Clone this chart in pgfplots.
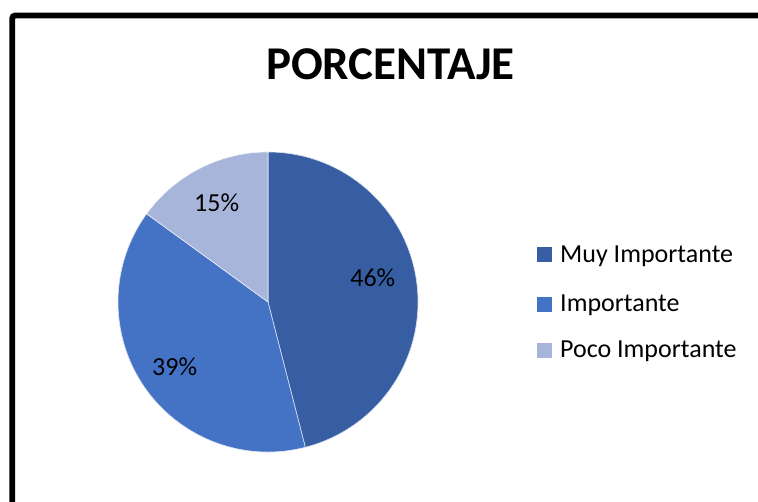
\documentclass[border=0pt]{standalone}
\usepackage{fontspec}
\setmainfont{Carlito}
\usepackage{pgfplots}
\pgfplotsset{compat=1.18}
\usepackage{pgfplotstable}
\definecolor{cMuy}{RGB}{55,94,163}
\definecolor{cImp}{RGB}{68,114,196}
\definecolor{cPoco}{RGB}{167,181,219}
\pgfplotstableread{
cat value
Muy 46
Imp 39
Poco 15
}\piedata
\begin{document}
\begin{tikzpicture}[x=1pt,y=1pt]
\pgfplotstablegetelem{0}{value}\of\piedata \let\vA\pgfplotsretval
\pgfplotstablegetelem{1}{value}\of\piedata \let\vB\pgfplotsretval
\pgfplotstablegetelem{2}{value}\of\piedata \let\vC\pgfplotsretval
\pgfmathsetmacro\aA{90-3.6*\vA}
\pgfmathsetmacro\aB{\aA-3.6*\vB}
\pgfmathsetmacro\aC{\aB-3.6*\vC}
\path[use as bounding box] (0,0) rectangle (758,502);
\clip (0,0) rectangle (758,502);
\begin{axis}[at={(0,0)},anchor=south west,width=758pt,height=502pt,scale only axis,
  xmin=0,xmax=758,ymin=0,ymax=502,hide axis,clip=false]
% frame
\draw[line width=5.8pt,rounded corners=3pt,black] (axis cs:12.2,-50) -- (axis cs:12.2,486.5) -- (axis cs:820,486.5);
% title
\node[anchor=base,inner sep=0pt,font=\fontsize{47}{52}\selectfont\bfseries] at (axis cs:390.5,422.5) {PORCENTAJE};
% slices
\fill[cMuy,draw=white!80!cMuy,line width=0.6pt] (axis cs:268,200) -- ++(90:150pt) arc[start angle=90,end angle=\aA,radius=150pt] -- cycle;
\fill[cImp,draw=white!80!cImp,line width=0.6pt] (axis cs:268,200) -- ++(\aA:150pt) arc[start angle=\aA,end angle=\aB,radius=150pt] -- cycle;
\fill[cPoco,draw=white!80!cPoco,line width=0.6pt] (axis cs:268,200) -- ++(\aB:150pt) arc[start angle=\aB,end angle=\aC,radius=150pt] -- cycle;
% data labels
\node[inner sep=0pt,font=\fontsize{26}{30}\selectfont] at (axis cs:372.8,224) {\vA\%};
\node[inner sep=0pt,font=\fontsize{26}{30}\selectfont] at (axis cs:174.7,135) {\vB\%};
\node[inner sep=0pt,font=\fontsize{26}{30}\selectfont] at (axis cs:216.7,299.2) {\vC\%};
% legend
\fill[cMuy] (axis cs:537,240) rectangle (axis cs:552,255);
\fill[cImp] (axis cs:537,190) rectangle (axis cs:552,205);
\fill[cPoco] (axis cs:537,144) rectangle (axis cs:552,159);
\node[anchor=base west,inner sep=0pt,font=\fontsize{26}{30}\selectfont] at (axis cs:560,239) {Muy Importante};
\node[anchor=base west,inner sep=0pt,font=\fontsize{26}{30}\selectfont] at (axis cs:560,190.5) {Importante};
\node[anchor=base west,inner sep=0pt,font=\fontsize{26}{30}\selectfont] at (axis cs:560,144) {Poco Importante};
\end{axis}
\end{tikzpicture}
\end{document}
